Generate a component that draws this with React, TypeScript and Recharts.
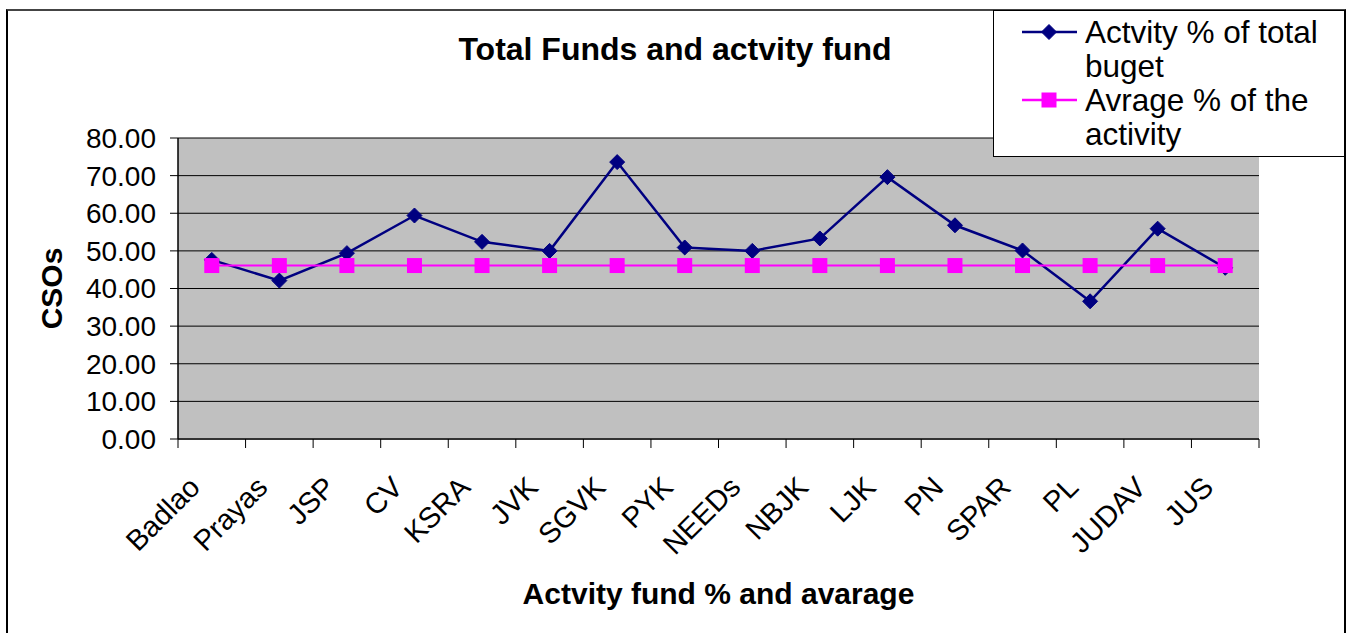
import React from "react";
import {
  LineChart,
  Line,
  XAxis,
  YAxis,
  CartesianGrid,
  Legend,
} from "recharts";

const categories = [
  "Badlao", "Prayas", "JSP", "CV", "KSRA", "JVK", "SGVK", "PYK",
  "NEEDs", "NBJK", "LJK", "PN", "SPAR", "PL", "JUDAV", "JUS",
];
const activityPct = [
  47.6, 42.1, 49.4, 59.4, 52.4, 50.0, 73.6, 50.9,
  50.0, 53.3, 69.6, 56.8, 50.1, 36.6, 55.9, 45.5,
];
const averagePct = [
  46.1, 46.1, 46.1, 46.1, 46.1, 46.1, 46.1, 46.1,
  46.1, 46.1, 46.1, 46.1, 46.1, 46.1, 46.1, 46.1,
];
const yTicks = [0, 10, 20, 30, 40, 50, 60, 70, 80];

const NAVY = "#000080";
const MAGENTA = "#FF00FF";
const FONT = "'Liberation Sans', Arial, sans-serif";

const data = categories.map((name, i) => ({
  name,
  activity: activityPct[i],
  average: averagePct[i],
}));

const Diamond = (props: any) => {
  const { cx, cy } = props;
  if (cx == null || cy == null) return null;
  const r = 7.5;
  return (
    <path
      d={`M${cx},${cy - r}L${cx + r},${cy}L${cx},${cy + r}L${cx - r},${cy}Z`}
      fill={NAVY}
      stroke={NAVY}
    />
  );
};

const Square = (props: any) => {
  const { cx, cy } = props;
  if (cx == null || cy == null) return null;
  return <rect x={cx - 7.5} y={cy - 7.5} width={15} height={15} fill={MAGENTA} />;
};

// label rotated -45 plus the category boundary tick marks
const CategoryTick = (props: any) => {
  const { x, y, payload, index, visibleTicksCount } = props;
  const half = payload.offset || 0;
  const ax = x - 10;
  const ay = y + 50;
  const isLast = index === visibleTicksCount - 1;
  return (
    <g>
      <line x1={x - half} y1={y} x2={x - half} y2={y + 9} stroke="#000" />
      {isLast && <line x1={x + half} y1={y} x2={x + half} y2={y + 9} stroke="#000" />}
      <text
        x={ax}
        y={ay}
        textAnchor="end"
        transform={`rotate(-45, ${ax}, ${ay})`}
        fontFamily={FONT}
        fontSize={29}
        fill="#000"
      >
        {payload.value}
      </text>
    </g>
  );
};

const LegendBox = (props: any) => {
  const { payload } = props;
  return (
    <div
      style={{
        boxSizing: "border-box",
        width: 352,
        height: 147,
        border: "1px solid #000",
        background: "#fff",
        paddingTop: 4,
        fontFamily: FONT,
        fontSize: 31.5,
        lineHeight: "34px",
        color: "#000",
      }}
    >
      {(payload || []).map((entry: any) => (
        <div key={entry.value} style={{ display: "flex" }}>
          <svg width={91} height={34} style={{ flex: "none" }}>
            <line x1={28} y1={17} x2={83} y2={17} stroke={entry.color} strokeWidth={2.5} />
            {entry.dataKey === "activity" ? (
              <Diamond cx={55} cy={17} />
            ) : (
              <Square cx={55} cy={17} />
            )}
          </svg>
          <div style={{ width: 255 }}>{entry.value}</div>
        </div>
      ))}
    </div>
  );
};

export default function App() {
  return (
    <div
      style={{
        position: "fixed",
        left: 0,
        top: 0,
        width: 1352,
        height: 633,
        overflow: "hidden",
        background: "#fff",
      }}
    >
      <div
        style={{
          position: "absolute",
          left: 6,
          top: 9,
          width: 1340,
          height: 700,
          boxSizing: "border-box",
          border: "2px solid #000",
          borderTopColor: "#444",
        }}
      />
      <div
        style={{
          position: "absolute",
          left: 0,
          top: 31,
          width: 1350,
          textAlign: "center",
          fontFamily: FONT,
          fontWeight: "bold",
          fontSize: 32,
          lineHeight: "36px",
          color: "#000",
        }}
      >
        Total Funds and actvity fund
      </div>
      <LineChart
        width={1352}
        height={633}
        data={data}
        margin={{ top: 138, right: 93, bottom: 44, left: 8 }}
        style={{ position: "absolute", left: 0, top: 0 }}
      >
        <CartesianGrid
          xAxisId="cat"
          vertical={false}
          stroke="#000"
          fill="#C0C0C0"
          fillOpacity={1}
        />
        <XAxis
          xAxisId="cat"
          dataKey="name"
          scale="band"
          interval={0}
          height={150}
          tickSize={0}
          tickMargin={0}
          tickLine={false}
          axisLine={{ stroke: "#333", strokeWidth: 2 }}
          tick={<CategoryTick />}
          label={{
            value: "Actvity fund % and avarage",
            position: "bottom",
            offset: -6,
            fontFamily: FONT,
            fontWeight: "bold",
            fontSize: 30,
            fill: "#000",
          }}
        />
        <YAxis
          domain={[0, 80]}
          ticks={yTicks}
          width={170}
          tickSize={8}
          tickMargin={14}
          interval={0}
          tickFormatter={(v: number) => v.toFixed(2)}
          tick={{ fontFamily: FONT, fontSize: 28, fill: "#000" }}
          axisLine={{ stroke: "#000", strokeWidth: 1.5 }}
          tickLine={{ stroke: "#000" }}
          label={{
            content: (p: any) => {
              const vb = p.viewBox || {};
              const lx = vb.x + 43;
              const ly = vb.y + vb.height / 2;
              return (
                <text
                  x={lx}
                  y={ly}
                  textAnchor="middle"
                  dominantBaseline="central"
                  transform={`rotate(-90, ${lx}, ${ly})`}
                  fontFamily={FONT}
                  fontWeight="bold"
                  fontSize={30}
                  fill="#000"
                >
                  CSOs
                </text>
              );
            },
          }}
        />
        <YAxis
          yAxisId="r"
          orientation="right"
          domain={[0, 80]}
          width={0}
          tick={false}
          tickLine={false}
          axisLine={{ stroke: "#808080", strokeWidth: 3 }}
        />
        <Legend
          layout="vertical"
          align="center"
          verticalAlign="middle"
          content={<LegendBox />}
          wrapperStyle={{ top: 10, left: 993, width: 352, height: 147 }}
        />
        <Line
          xAxisId="cat"
          dataKey="activity"
          name="Actvity % of total buget"
          stroke={NAVY}
          strokeWidth={2.5}
          dot={<Diamond />}
          activeDot={false}
          isAnimationActive={false}
        />
        <Line
          xAxisId="cat"
          dataKey="average"
          name="Avrage % of the activity"
          stroke={MAGENTA}
          strokeWidth={2}
          dot={<Square />}
          activeDot={false}
          isAnimationActive={false}
        />
      </LineChart>
    </div>
  );
}
